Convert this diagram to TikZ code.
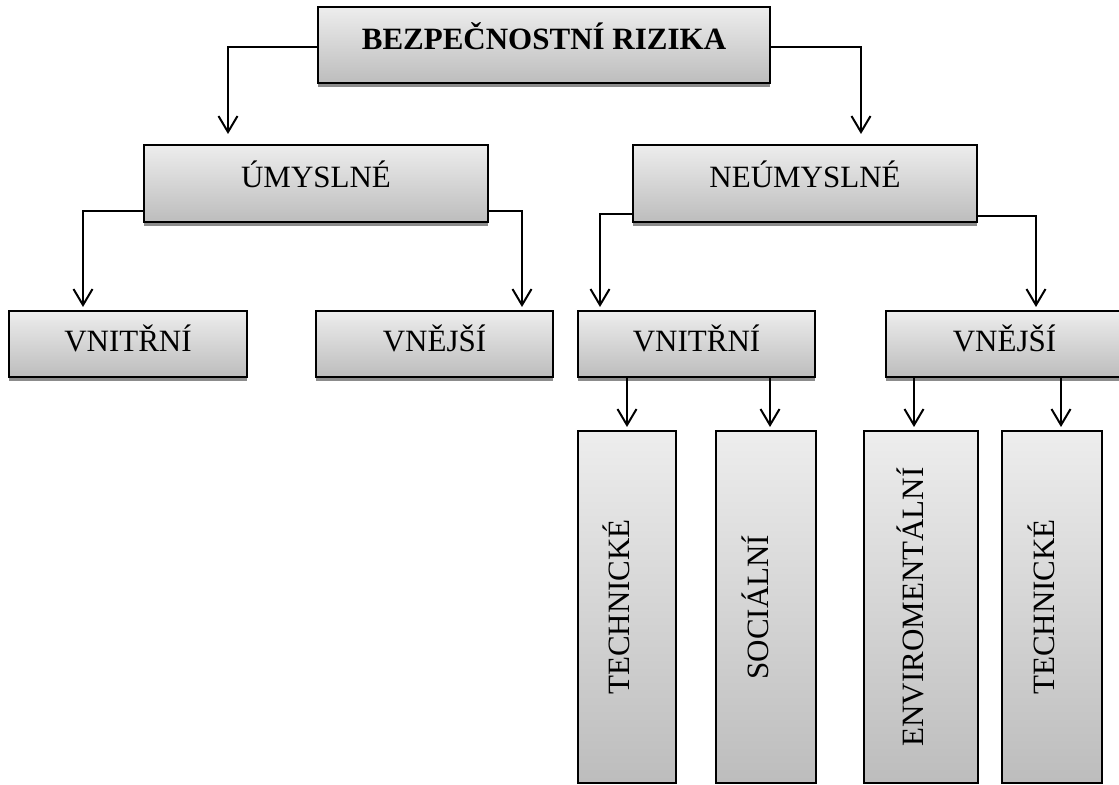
\documentclass[tikz,border=0pt]{standalone}
\usepackage{fontspec}
\setmainfont{Liberation Serif}
\usetikzlibrary{arrows.meta,shadows,calc}

\begin{document}
\begin{tikzpicture}[x=0.5pt,y=-0.5pt]
    \clip (0,0) rectangle (1119,785);
    \begin{scope}[every node/.style={rectangle,draw=black,line width=1pt,
                  top color=black!7,bottom color=black!26,
                  general shadow={fill=black!45,shadow yshift=-2pt},
                  font=\fontsize{15.5}{18}\selectfont,inner sep=0pt,text height=10.3pt}]
        \node[minimum width=226pt,minimum height=38pt,text depth=6pt,
              font=\fontsize{15.5}{18}\selectfont\bfseries] (rizika) at (544,45) {BEZPEČNOSTNÍ RIZIKA};
        
        \node[minimum width=172pt,minimum height=38.5pt,text depth=6.5pt] (umysl) at (316,183.5) {ÚMYSLNÉ};
        \node[minimum width=172pt,minimum height=38.5pt,text depth=6.5pt] (neumysl) at (805,183.5) {NEÚMYSLNÉ};
        
        \node[minimum width=119pt,minimum height=33pt,text depth=3pt] (vnitr1) at (128,344) {VNITŘNÍ};
        \node[minimum width=118.5pt,minimum height=33pt,text depth=3pt] (vnej1) at (434.5,344) {VNĚJŠÍ};
        \node[minimum width=118.5pt,minimum height=33pt,text depth=3pt] (vnitr2) at (696.5,344) {VNITŘNÍ};
        \node[minimum width=118.5pt,minimum height=33pt,text depth=3pt] (vnej2) at (1004.5,344) {VNĚJŠÍ};
    \end{scope}
    
    \begin{scope}[every node/.style={rectangle,draw=black,line width=1pt,rotate=90,
                  top color=black!7,bottom color=black!26,
                  font=\fontsize{15.5}{18}\selectfont,inner sep=0pt,
                  text height=10.3pt,text depth=8pt,minimum width=176pt}]
        \node[minimum height=49pt] (tech1) at (627,607) {TECHNICKÉ};
        \node[minimum height=50pt] (soc) at (766,607) {SOCIÁLNÍ};
        \node[minimum height=57pt] (env) at (921,607) {ENVIROMENTÁLNÍ};
        \node[minimum height=50pt] (tech2) at (1052,607) {TECHNICKÉ};
    \end{scope}
    
    \begin{scope}[line width=1pt,>={Straight Barb[length=8pt,width=9.5pt]}]
        \draw [->,shorten >=5pt] ([yshift=-1pt]rizika.west) -| ([xshift=42.5pt]umysl.north west);
        \draw [->,shorten >=5pt] ([yshift=-1pt]rizika.east) -| ([xshift=-58.5pt]neumysl.north east);
        
        \draw [->,shorten >=1.5pt] ([yshift=6pt]umysl.south west) -| ([xshift=37.5pt]vnitr1.north west);
        \draw [->,shorten >=1.5pt] ([yshift=6pt]umysl.south east) -| ([xshift=-16pt]vnej1.north east);
        \draw [->,shorten >=1.5pt] ([yshift=4.5pt]neumysl.south west) -| ([xshift=11.5pt]vnitr2.north west);
        \draw [->,shorten >=1.5pt] ([yshift=3.5pt]neumysl.south east) -| ([xshift=75.5pt]vnej2.north west);
        
        \draw [->,shorten >=1.5pt] (tech1.east |- vnitr2.south) -- (tech1.east);
        \draw [->,shorten >=1.5pt] ($(soc.east |- vnitr2.south)+(4,0)$) -- ($(soc.east)+(4,0)$);
        \draw [->,shorten >=1.5pt] ($(env.east |- vnej2.south)+(-7,0)$) -- ($(env.east)+(-7,0)$);
        \draw [->,shorten >=1.5pt] ($(tech2.east |- vnej2.south)+(9,0)$) -- ($(tech2.east)+(9,0)$);
    \end{scope}
\end{tikzpicture}
\end{document}
